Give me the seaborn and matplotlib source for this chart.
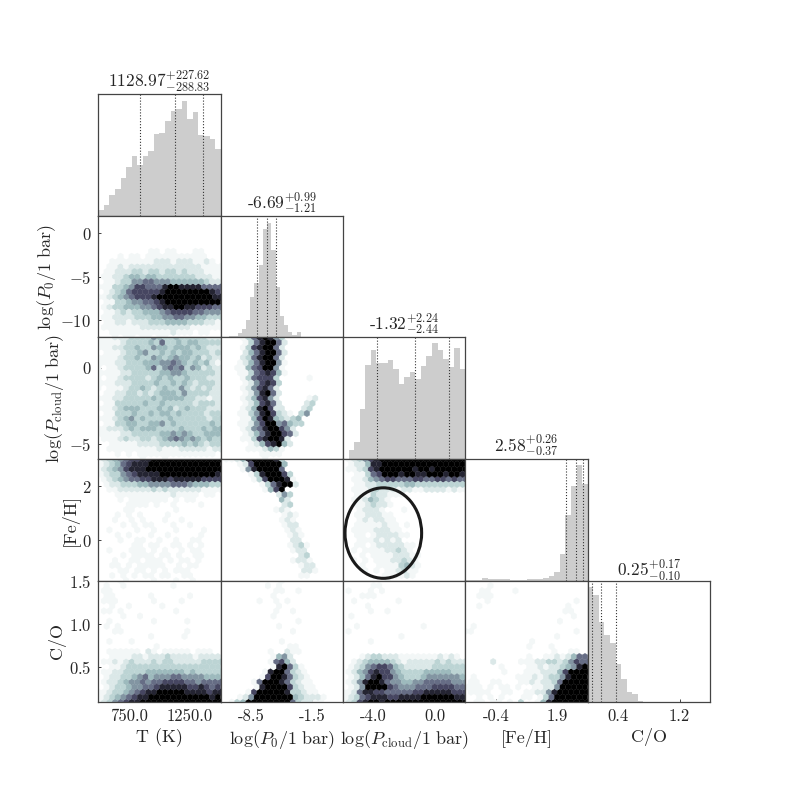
import numpy as np
import matplotlib
matplotlib.use("Agg")
import matplotlib.pyplot as plt
from matplotlib.colors import PowerNorm
from matplotlib.patches import Ellipse
import seaborn as sns

# ── Axis setup ────────────────────────────────────────────────────────
X_LABELS = ["T (K)", r"$\log(P_0/1\ \mathrm{bar})$", r"$\log(P_{\mathrm{cloud}}/1\ \mathrm{bar})$", "[Fe/H]", "C/O"]
Y_LABELS = [None, r"$\log(P_0/1\ \mathrm{bar})$", r"$\log(P_{\mathrm{cloud}}/1\ \mathrm{bar})$", "[Fe/H]", "C/O"]
RANGES = [(500, 1500), (-12, 2), (-6, 2), (-1.5, 3), (0.1, 1.5)]
X_TICKS = [[750, 1250], [-8.5, -1.5], [-4, 0], [-0.375, 1.875], [0.45, 1.15]]
X_TICK_LABELS = [["750.0", "1250.0"], ["-8.5", "-1.5"], ["-4.0", "0.0"], ["-0.4", "1.9"], ["0.4", "1.2"]]
Y_TICKS = [[], [-10, -5, 0], [-5, 0], [0, 2], [0.5, 1.0, 1.5]]
Y_TICK_LABELS = [[], ["$-10$", "$-5$", "$0$"], ["$-5$", "$0$"], ["$0$", "$2$"], ["$0.5$", "$1.0$", "$1.5$"]]

# ── Marginals: median, +err, -err and bar heights ────────────────────
MEDIANS = [1128.97, -6.69, -1.32, 2.58, 0.25]
ERR_UP = [227.62, 0.99, 2.24, 0.26, 0.17]
ERR_DOWN = [288.83, 1.21, 2.44, 0.37, 0.10]
TITLES = [r"1128.97$^{+227.62}_{-288.83}$", r"-6.69$^{+0.99}_{-1.21}$", r"-1.32$^{+2.24}_{-2.44}$",
          r"2.58$^{+0.26}_{-0.37}$", r"0.25$^{+0.17}_{-0.10}$"]

HIST_T = [19, 34, 61, 79, 112, 145, 180, 151, 178, 195, 245, 249, 285, 314, 320, 345, 289, 310, 243, 239, 231, 200]
HIST_P0 = [0, 1, 3, 5, 12, 25, 51, 121, 163, 216, 326, 344, 263, 150, 65, 38, 17, 6, 15, 0, 0, 0, 0, 0, 0, 0, 0, 0, 0]
HIST_CLOUD = [0, 27, 52, 150, 281, 326, 289, 289, 297, 270, 226, 245, 262, 241, 280, 307, 346, 327, 300, 277, 332, 270]
HIST_FEH = [3, 3, 3, 7, 4, 6, 5, 4, 3, 3, 3, 6, 4, 5, 7, 13, 26, 81, 196, 283, 346, 290]
HIST_CO = [345, 320, 241, 201, 176, 114, 69, 32, 24, 4, 2, 1, 1, 1, 1, 1, 1, 1, 0, 0, 0, 0]
HISTS = [HIST_T, HIST_P0, HIST_CLOUD, HIST_FEH, HIST_CO]

# ── Hexbin levels: top row first, 0 = empty, 9 = black ──
HEX_P0_T = """0000000000000000000000 0000000000000000000000 0000000000000000000000 0000000000000000000000
0000000000000000000000 0000000000000000000000 0000000000000000000000 0000000001101100011000
0000101101111111111100 0011111111222122211210 0011212222222222222111 0112223323323323222111
0112234434433333332221 0112335566555444444322 1113345776668998888666 0123467777789999999987
1123456777899999999998 0113345566789999999999 0123344455678899887776 0112323344456777766555
0112222333445566554433 0112212223334444333221 0111111122222222211111 0011111111111211101100
0001011011011000000000"""
HEX_CLOUD_T = """1112223333543343333322 1111233334363343443333 1112233433544344434322 0111233453343434433323
1111233433543454434232 1112233344455654343421 1011233334635656354232 1111223333344554333332
1011233332343433433322 1112223333433434323332 1011123343234335323232 0112233232344435333322
1112233333434444332212 0113333343343333323332 1112344433343423433322 0113334334344343333233
1112345343333433333323 0113344334453433333343 1122234344433334333434 1111223333344545433444
0111232233234565454343 0011111222233334343233 0011111111121112222212 0001010111111111111110
0000000010001000000000"""
HEX_FEH_T = """1234567788999999999999 1234678889999999999999 1234578889999999999999 1233567888899999999998
0123456677888788888777 0122333445555666544433 0011222222323222222111 0001111111111211110110
0000101111111010110000 0000011110100100001000 0000011000000010000000 0001010100001000000000
0001001010001001000000 0000101011000100100000 0010000100100010000100 0001010001001000001000
0000100110010010011000 0000001101100110101000 0010001110101001011000 0000101111011010011000
0001001101110101101000 0011010111110010110000 0000110110101011100000 0010101011011001100000
0000010000100010010000"""
HEX_CO_T = """0000100000000000000000 0100100000000100000000 0110000000000000000000 0110000001000000100000
0111000000100001000000 0010010000010000000000 0110100000000010000000 0000100100000000000000
0010000000100000100000 0101000000000000000000 0001100000000000100000 0000000001000001000000
0010001000000000000000 0000000000100000000000 0011111102101111101110 0011112212223222212222
0112123222323322222333 0011233333333333333333 0112233334444444343333 0122334564555665555444
0122345565667777665666 0123345566788888778767 1123345678899999888878 1234567889999999999989
1235678899999999999999"""
HEX_CLOUD_P0 = """0000136898530000000000 0000136899620000000000 0000137899620000000000 0000246899620000000000
0000236899620000000000 0001246899510000000000 0001146799510000000000 0001136787410000000000
0000136777300000100000 0000125787300000000000 0000125786200000000000 0000125896200000000000
0000124785200000120000 0000124786200002300000 0000124897220002300000 0001135897321035000000
0000114798432340000000 0001125799564330000000 0000125689975200000000 0000124689976200000000
0000113789982000000000 0000012478942000000000 0000011124310000000000 0000000111100000000000
0000000010000000000000"""
HEX_FEH_P0 = """0112489999830000000000 0001279999940000000000 0000158999960000000000 0000013899973000000000
0000001379998100000000 0000000136899200000000 0000000014790000000000 0000000000253000000000
0000000000042000000000 0000000000023000000000 0000000000121000000000 0000000000012100000000
0000000000012100000000 0000000000012200000000 0000000000001210000000 0000000000001210000000
0000000000000220000000 0000000000001231000000 0000000000000122000000 0000000000000023000000
0000000000000122100000 0000000000000012200000 0000000000000002210000 0000000000000011000000
0000000000000000000000"""
HEX_CO_P0 = """0000000000010000000000 0000000010100000000000 0000000000110010000000 0000000001000000000000
0000000100101000000000 0000000000100000000000 0000000000100100000000 0000000001000000000000
0000000000000010000000 0000000000100000000000 0000000000000100000000 0000000000000000000000
0000000000010000000000 0000000000001100000000 0000000001002110000000 0000000001452000000000
0000000001674200000000 0000000001896310000000 0000000018996321000000 0000000179986321000000
0000001699986321100000 0000001899997321100000 0000017999998332110000 0001259999999432221000
0013499999999632211000"""
HEX_FEH_CLOUD = """0123578999999999999999 0122488999999999999999 0112378999999899899999 0011367999899889998998
0011245677666776677676 0011223333344333333333 0011123222122112222121 0011132211100000000000
0011243210000000000000 0011232210000000000000 0001222100010000000000 0011222110000000000000
0001212211000000000000 0011111211010000000000 0011112221100000000000 0011012222110000000000
0001112121200000000000 0011012222211000000000 0010111122321000000000 0001011112221100000000
0010101112232100000000 0001001111342100000000 0000101011231100000000 0000000111121000000000
0000000010000000000000"""
HEX_CO_CLOUD = """0000000000000000000000 0000011000000000000000 0100010100000000000000 0001110000000000000000
0010000000100000000000 0000100000000000000000 0000010010000000000000 0100000000000000000000
0000000000000000000000 0010000000000010000000 0100000000000000000000 0000000000100000000000
0000010000000000000000 0000000000000000000000 0000000000000000000000 0001233222111111121210
0012344443212222232322 0123567764322222333333 0124578775433334444433 0124689775433345555554
0125899865544556666655 0125999976555666777766 1126887766666778888877 1236788877888899999988
1237899899999999999999"""
HEX_CO_FEH = """0000000000000000000000 0000100000000000000000 0001100001000000000000 0011100000000000000000
0000100000000000000010 0010000000000000001000 0000000000000000001100 0000000000000000000100
0000000000000000010000 0100000000000000000000 1100000000000000000010 0000000000000000100000
0000000000001000000000 0000000000010001000000 0000000000000000100110 0000000000010011212466
0000020000111223323576 0000001000011212234589 0000000100011122247999 0100000001112123358999
0110011000112122369999 1110101101001122599999 0111100110011225899999 0010101000110136999999
0011011010300148999999"""
HEX_PANELS = {(1, 0): HEX_P0_T, (2, 0): HEX_CLOUD_T, (3, 0): HEX_FEH_T, (4, 0): HEX_CO_T,
              (2, 1): HEX_CLOUD_P0, (3, 1): HEX_FEH_P0, (4, 1): HEX_CO_P0,
              (3, 2): HEX_FEH_CLOUD, (4, 2): HEX_CO_CLOUD, (4, 3): HEX_CO_FEH}

GRIDSIZE = 22
N_ROWS = 12  # int(gridsize / sqrt(3)), what hexbin uses

sns.set_theme(style="white")
plt.rcParams["font.family"] = ["cmr10", "DejaVu Sans"]
plt.rcParams["mathtext.fontset"] = "cm"
plt.rcParams["axes.formatter.use_mathtext"] = True
plt.rcParams["axes.linewidth"] = 0.9
plt.rcParams["axes.edgecolor"] = "#444444"
plt.rcParams["axes.unicode_minus"] = False
CMAP = sns.color_palette("bone_r", as_cmap=True)


def hex_points(text, xr, yr):
    # every row string sits on the hexbin lattice, odd rows are shifted half a cell
    sx = (xr[1] - xr[0]) / GRIDSIZE
    sy = (yr[1] - yr[0]) / N_ROWS
    xs, ys, cs = [], [], []
    for r, row in enumerate(text.split()):
        y = yr[1] - r * sy / 2
        shift = 0.5 if r % 2 else 0.0
        vals = [int(c) for c in row]
        if r % 2 == 0:
            vals = vals + [vals[-1]]  # even rows carry one more half hex on the right edge
        for i, v in enumerate(vals):
            if v > 0:
                xs.append(xr[0] + (i + shift) * sx)
                ys.append(y)
                cs.append(v)
    return xs, ys, cs


fig, axes = plt.subplots(5, 5, figsize=(7.89, 7.89))
fig.subplots_adjust(left=0.1246, right=0.9, top=0.8805, bottom=0.11, hspace=0, wspace=0)

for row in range(5):
    for col in range(5):
        ax = axes[row, col]
        if col > row:
            ax.set_visible(False)
            continue
        xr, yr = RANGES[col], RANGES[row]
        if row == col:
            heights = HISTS[col]
            edges = np.linspace(xr[0], xr[1], len(heights) + 1)
            centers = (edges[:-1] + edges[1:]) / 2
            sns.histplot(x=centers, weights=heights, bins=edges.tolist(), color="#cdcdcd", alpha=1,
                         linewidth=0, ax=ax)
            ax.set_ylim(0, 364)
            for v in (MEDIANS[col] - ERR_DOWN[col], MEDIANS[col], MEDIANS[col] + ERR_UP[col]):
                ax.axvline(v, color="#333333", ls=":", lw=0.8)
            ax.set_title(TITLES[col], fontsize=12.5, pad=3)
            ax.set_ylabel("")
        else:
            xs, ys, cs = hex_points(HEX_PANELS[(row, col)], xr, yr)
            ax.hexbin(xs, ys, C=cs, reduce_C_function=np.sum, gridsize=GRIDSIZE, cmap=CMAP,
                      norm=PowerNorm(1.5, vmin=0, vmax=9), extent=(xr[0], xr[1], yr[0], yr[1]),
                      linewidths=0.2)
            ax.set_ylim(yr)
        ax.set_xlim(xr)

        ax.set_xticks(X_TICKS[col] if row == 4 else [])
        if row == 4:
            ax.set_xticklabels(X_TICK_LABELS[col], fontsize=12)
            ax.set_xlabel(X_LABELS[col], fontsize=13, labelpad=2.5)
        else:
            ax.set_xlabel("")
        if col == 0 and row > 0:
            ax.set_yticks(Y_TICKS[row])
            ax.set_yticklabels(Y_TICK_LABELS[row], fontsize=12)
            ax.set_ylabel(Y_LABELS[row], fontsize=13, labelpad=2)
        else:
            ax.set_yticks([])
        ax.tick_params(direction="in", length=2, width=0.6, pad=5, bottom=True, left=True)

# hand drawn ring around the low metallicity branch
ring = Ellipse((-3.365, 0.26), 5.01, 3.35, fill=False, ec="k", lw=2.2, clip_on=False, zorder=10)
axes[3, 2].add_patch(ring)

fig.savefig("out.png", dpi=100)
plt.close()
